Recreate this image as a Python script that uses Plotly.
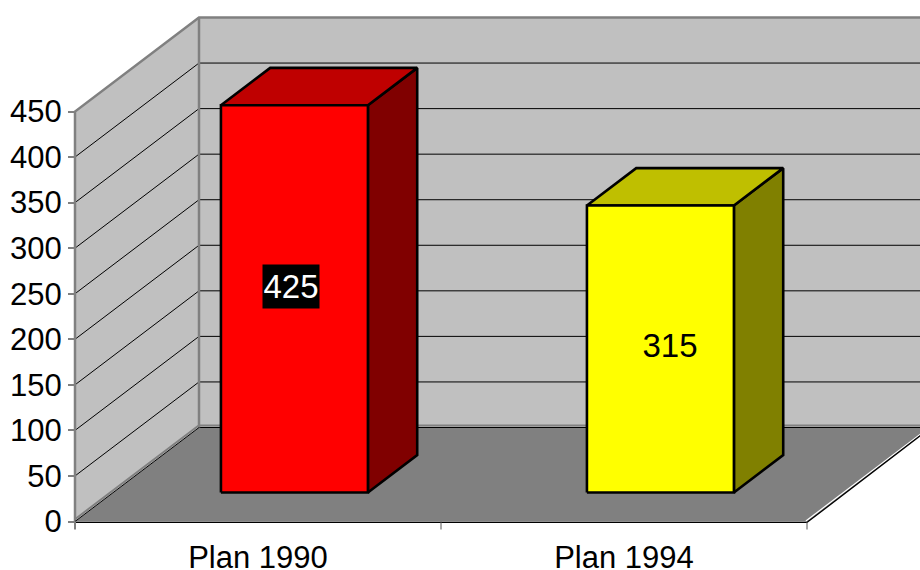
import plotly.graph_objects as go

categories = ["Plan 1990", "Plan 1994"]
values = [425, 315]
y_ticks = [0, 50, 100, 150, 200, 250, 300, 350, 400, 450]
face_colors = ["#FF0000", "#FFFF00"]
top_colors = ["#BF0000", "#BFBF00"]
side_colors = ["#800000", "#808000"]
label_colors = ["#FFFFFF", "#000000"]
label_bgs = ["#000000", "rgba(0,0,0,0)"]
label_offsets = [(-3.5, -12), (9.5, -3.5)]

W, H = 920, 570
X0, Y0 = 75, 521.5        # pixel of (first category edge, value 0)
PX_CAT, PX_VAL = 366, 410 / 450
DEPTH_X, DEPTH_Y = 124 / PX_CAT, 94 / PX_VAL
VMAX = max(y_ticks)
NCAT = len(categories)
BAR_C, BAR_W = 0.495, 0.4016
BAR_D0, BAR_D1 = 0.3085, 0.706
GREY, WALL, FLOOR = "#808080", "#C0C0C0", "#808080"
FONT = "Liberation Sans, Arial"
FONT_SIZE = 31
LABEL_SIZE = 33
BAR_LINE = 2.6


def proj(c, v, d=0.0):
    return c + d * DEPTH_X, v + d * DEPTH_Y


def poly(points, fill=None, line=None, width=1, dash=None):
    xs, ys = zip(*points)
    kw = dict(x=list(xs), y=list(ys), mode="lines", hoverinfo="skip", showlegend=False,
              line=dict(color=line or "rgba(0,0,0,0)", width=width if line else 0, dash=dash))
    if fill:
        kw.update(fill="toself", fillcolor=fill)
    return go.Scatter(**kw)


fig = go.Figure()
# floor and walls
fig.add_trace(poly([proj(0, 0, 0), proj(NCAT, 0, 0), proj(NCAT, 0, 1), proj(0, 0, 1), proj(0, 0, 0)], fill=FLOOR))
fig.add_trace(poly([proj(0, 0, 0), proj(0, VMAX, 0), proj(0, VMAX, 1), proj(0, 0, 1), proj(0, 0, 0)], fill=WALL))
fig.add_trace(poly([proj(0, 0, 1), proj(0, VMAX, 1), proj(NCAT, VMAX, 1), proj(NCAT, 0, 1), proj(0, 0, 1)], fill=WALL))

# gridlines
for t in y_ticks[1:-1]:
    fig.add_trace(poly([proj(0, t, 0), proj(0, t, 1), proj(NCAT, t, 1)], line="#000000", width=1))

# wall edges
fig.add_trace(poly([proj(0, 0, 1), proj(NCAT, 0, 1)], line="#000000", width=1))
fig.add_trace(poly([proj(0, 2.2, 1), proj(NCAT, 2.2, 1)], line=GREY, width=2))
fig.add_trace(poly([proj(0, 0, 0), proj(0, VMAX, 0), proj(0, VMAX, 1), proj(NCAT, VMAX, 1)], line=GREY, width=2.5))
fig.add_trace(poly([proj(0, 0, 1), proj(0, VMAX, 1)], line=GREY, width=2.5))
fig.add_trace(poly([proj(0, 2.5, 0), proj(0, 2.5, 1)], line=GREY, width=2))
fig.add_trace(poly([proj(0, 0, 0), proj(0, 0, 1)], line="#000000", width=1))

# floor front and right edges
fig.add_trace(poly([proj(NCAT - 0.003, 0.6, 0), proj(NCAT - 0.003, 0.6, 1)], line="#FFFFFF", width=1.2))
fig.add_trace(poly([proj(0, -1, 0), proj(NCAT, -1, 0), proj(NCAT, 0, 1)], line="#000000", width=1.4))

# x tick marks
for c in range(NCAT + 1):
    fig.add_trace(poly([proj(c, 0), proj(c, -8 / PX_VAL)], line=GREY if c == 0 else "#555555", width=2 if c == 0 else 1))

# bars
annotations = []
for i, v in enumerate(values):
    l, r = i + BAR_C - BAR_W / 2, i + BAR_C + BAR_W / 2
    fl, fr = (lambda h: proj(l, h, BAR_D0)), (lambda h: proj(r, h, BAR_D0))
    bl, br = (lambda h: proj(l, h, BAR_D1)), (lambda h: proj(r, h, BAR_D1))
    fig.add_trace(poly([fr(0), br(0), br(v), fr(v), fr(0)], fill=side_colors[i], line="#000000", width=BAR_LINE))
    fig.add_trace(poly([fl(v), fr(v), br(v), bl(v), fl(v)], fill=top_colors[i], line="#000000", width=BAR_LINE))
    fig.add_trace(poly([fl(0), fr(0), fr(v), fl(v), fl(0)], fill=face_colors[i], line="#000000", width=BAR_LINE))
    cx, cy = proj(i + BAR_C, v / 2, BAR_D0)
    annotations.append(dict(
        x=cx, y=cy, xref="x", yref="y", text=str(v), showarrow=False,
        xshift=label_offsets[i][0], yshift=-label_offsets[i][1],
        font=dict(family=FONT, size=LABEL_SIZE, color=label_colors[i]),
        bgcolor=label_bgs[i], borderpad=0, width=56, height=43, align="center", valign="middle",
    ))

fig.update_layout(
    width=W, height=H, autosize=False, margin=dict(l=0, r=0, t=0, b=0, pad=0),
    paper_bgcolor="#FFFFFF", plot_bgcolor="#FFFFFF", showlegend=False,
    font=dict(family=FONT, size=FONT_SIZE, color="#000000"),
    annotations=annotations,
    xaxis=dict(
        range=[-X0 / PX_CAT, (W - X0) / PX_CAT], domain=[0, 1], anchor="free", position=(H - Y0) / H,
        tickmode="array", tickvals=[i + 0.5 for i in range(NCAT)], ticktext=categories,
        ticks="outside", ticklen=8, tickcolor="rgba(0,0,0,0)", showgrid=False, zeroline=False, showline=False,
        fixedrange=True, automargin=False,
    ),
    yaxis=dict(
        range=[-(H - Y0) / PX_VAL, Y0 / PX_VAL], domain=[0, 1], anchor="free", position=X0 / W,
        tickmode="array", tickvals=y_ticks, ticks="outside", ticklen=7, tickcolor=GREY, tickwidth=1.5,
        showgrid=False, zeroline=False, showline=False, fixedrange=True, automargin=False,
    ),
)
fig.write_html(
    "out.html", config=dict(displayModeBar=False),
    post_script="document.body.style.margin='0';document.body.style.overflow='hidden';",
)
